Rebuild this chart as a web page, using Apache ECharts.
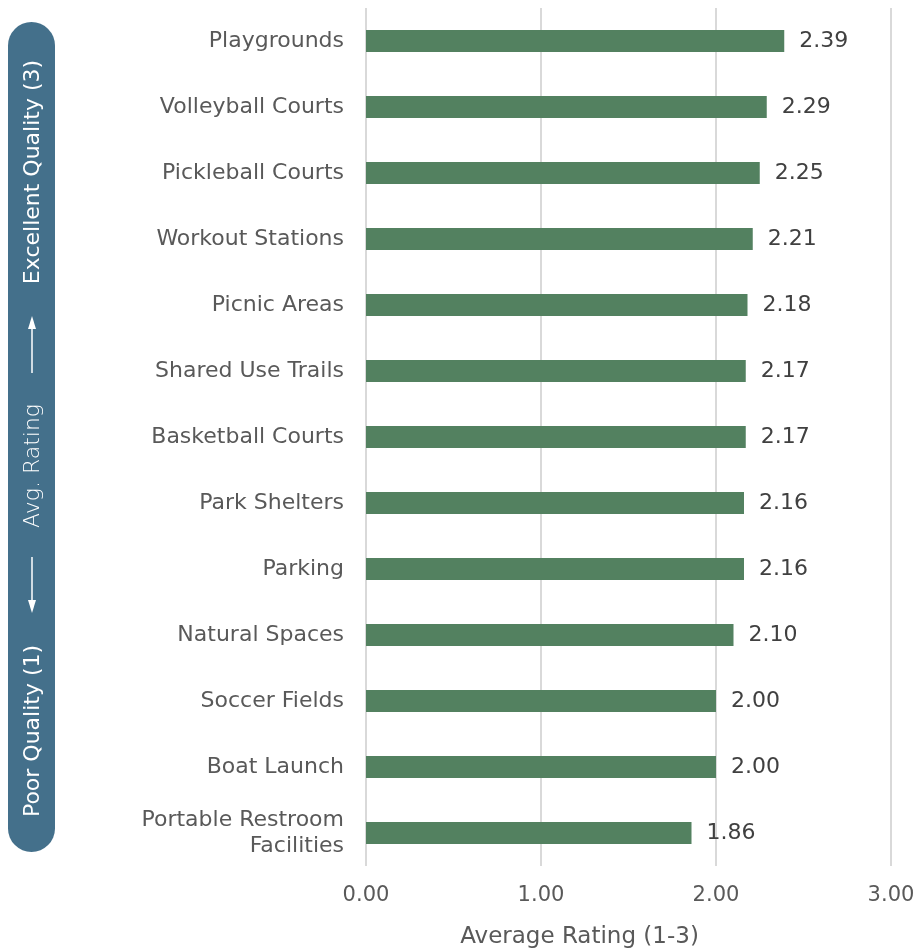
<!DOCTYPE html>
<html>
<head>
<meta charset="utf-8">
<script src="https://cdn.jsdelivr.net/npm/echarts@6/dist/echarts.min.js"></script>
<style>
  html, body { margin: 0; padding: 0; background: #ffffff; }
  #chart { width: 921px; height: 949px; }
</style>
</head>
<body>
<div id="chart"></div>
<script>
// Amenity ratings, listed top to bottom
const amenities = [
  'Playgrounds', 'Volleyball Courts', 'Pickleball Courts', 'Workout Stations',
  'Picnic Areas', 'Shared Use Trails', 'Basketball Courts', 'Park Shelters',
  'Parking', 'Natural Spaces', 'Soccer Fields', 'Boat Launch',
  'Portable Restroom\nFacilities'
];
const ratings = [2.39, 2.29, 2.25, 2.21, 2.18, 2.17, 2.17, 2.16, 2.16, 2.10, 2.00, 2.00, 1.86];
const axisTicks = [0, 1, 2, 3];

const FONT = "'DejaVu Sans', sans-serif";
const TEXT = '#595959';
const PILL = '#44708b';

const chart = echarts.init(document.getElementById('chart'), null, { renderer: 'canvas' });

chart.setOption({
  animation: false,
  backgroundColor: '#ffffff',
  grid: {
    left: 366, right: 30, top: 8, bottom: 83,
    containLabel: false,
    outerBoundsMode: 'none'
  },
  xAxis: {
    type: 'value',
    min: axisTicks[0],
    max: axisTicks[axisTicks.length - 1],
    interval: 1,
    name: 'Average Rating (1-3)',
    nameLocation: 'middle',
    nameGap: 60,
    nameTextStyle: {
      fontFamily: FONT, fontSize: 23, color: TEXT,
      padding: [0, 98, 0, 0]
    },
    axisLine: { show: false },
    axisTick: { show: false },
    axisLabel: {
      margin: 19,
      fontFamily: FONT, fontSize: 21, color: TEXT,
      formatter: v => v.toFixed(2)
    },
    splitLine: { show: true, lineStyle: { color: '#d9d9d9', width: 2 } }
  },
  yAxis: {
    type: 'category',
    inverse: true,
    data: amenities,
    axisLine: { show: false },
    axisTick: { show: false },
    axisLabel: {
      margin: 22,
      fontFamily: FONT, fontSize: 22, color: TEXT, lineHeight: 26,
      align: 'right'
    }
  },
  series: [{
    type: 'bar',
    data: ratings,
    barWidth: 22,
    itemStyle: { color: '#538160' },
    label: {
      show: true,
      position: 'right',
      distance: 15,
      fontFamily: FONT, fontSize: 22, color: '#404040',
      formatter: p => p.value.toFixed(2)
    }
  }],
  graphic: [
    {
      type: 'rect',
      shape: { x: 8, y: 22, width: 47, height: 830, r: 23.5 },
      style: { fill: PILL }
    },
    {
      type: 'text',
      x: 33, y: 172, rotation: Math.PI / 2,
      style: {
        text: 'Excellent Quality (3)', fill: '#ffffff',
        font: "normal 22px 'DejaVu Sans', sans-serif",
        align: 'center', verticalAlign: 'middle'
      }
    },
    {
      type: 'text',
      x: 33, y: 466, rotation: Math.PI / 2,
      style: {
        text: 'Avg. Rating', fill: '#ffffff',
        font: "200 22px 'DejaVu Sans', sans-serif",
        align: 'center', verticalAlign: 'middle'
      }
    },
    {
      type: 'text',
      x: 33, y: 731, rotation: Math.PI / 2,
      style: {
        text: 'Poor Quality (1)', fill: '#ffffff',
        font: "normal 22px 'DejaVu Sans', sans-serif",
        align: 'center', verticalAlign: 'middle'
      }
    },
    // upward arrow
    { type: 'line', shape: { x1: 32, y1: 373, x2: 32, y2: 324 }, style: { stroke: '#ffffff', lineWidth: 1.5 } },
    { type: 'polygon', shape: { points: [[32, 316], [28, 329], [36, 329]] }, style: { fill: '#ffffff' } },
    // downward arrow
    { type: 'line', shape: { x1: 32, y1: 557, x2: 32, y2: 606 }, style: { stroke: '#ffffff', lineWidth: 1.5 } },
    { type: 'polygon', shape: { points: [[32, 613], [28, 600], [36, 600]] }, style: { fill: '#ffffff' } }
  ]
});
</script>
</body>
</html>
